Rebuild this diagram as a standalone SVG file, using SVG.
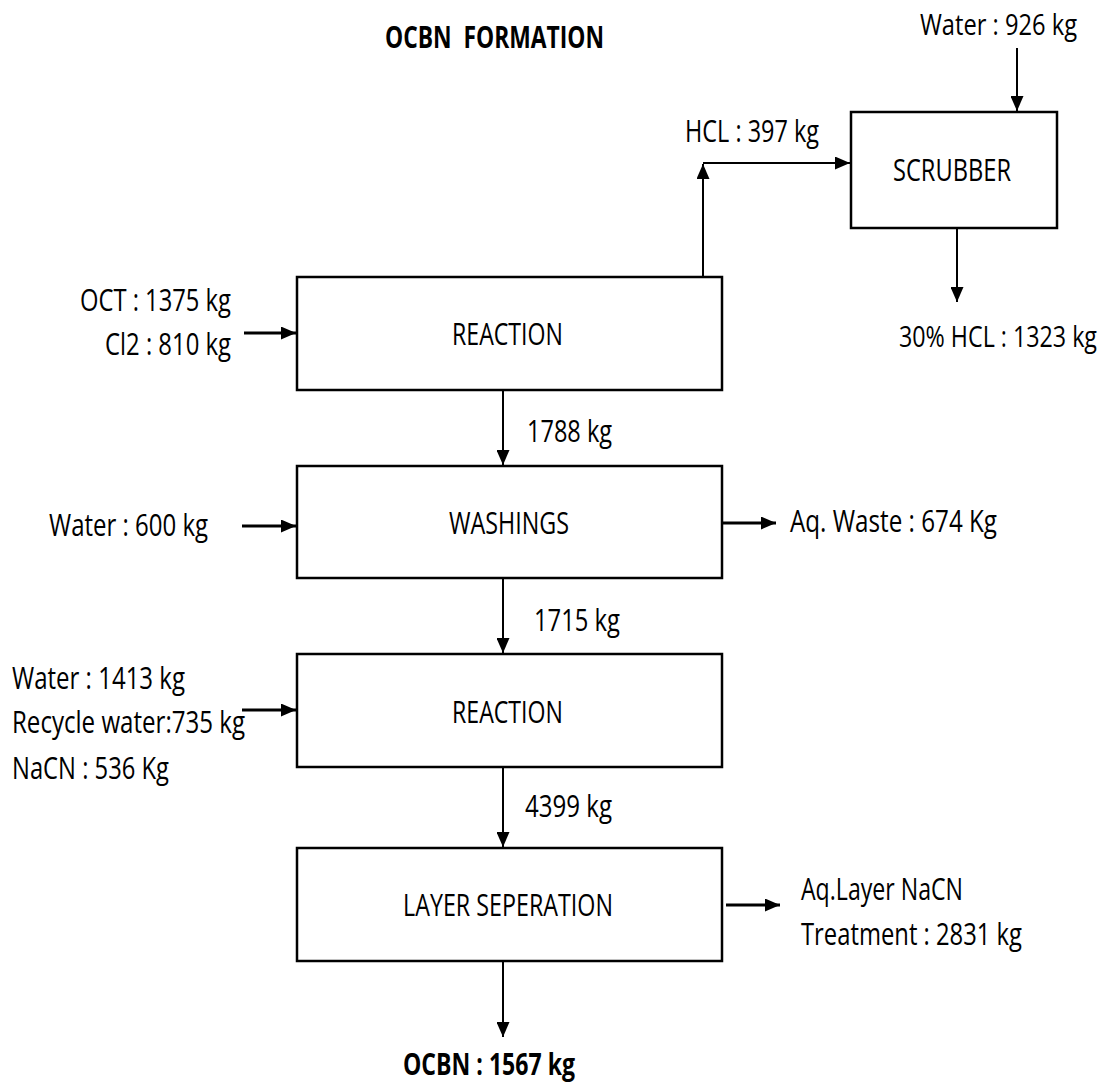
<svg xmlns="http://www.w3.org/2000/svg" width="1112" height="1083" viewBox="0 0 1112 1083">
<defs>
<style>
text{font-family:"Open Sans","Liberation Sans",sans-serif;font-size:31px;fill:#000;white-space:pre}
.b{font-weight:bold}
.sm{font-size:29px}
.end{text-anchor:end}
.box{fill:#fff;stroke:#000;stroke-width:2.5}
.ln{fill:none;stroke:#000;stroke-width:2}
.thick{stroke-width:3}
</style>
<marker id="ah" markerUnits="userSpaceOnUse" markerWidth="15" markerHeight="13" refX="15" refY="6.5" orient="auto">
<path d="M0,0 L15,6.5 L0,13 z" fill="#000"/>
</marker>
</defs>
<rect width="1112" height="1083" fill="#fff"/>
<text class="b" x="385" y="48" textLength="219" lengthAdjust="spacingAndGlyphs">OCBN  FORMATION</text>
<g id="connectors">
<path class="ln" d="M1017,48 V111" marker-end="url(#ah)"/>
<path class="ln" d="M703,277 V164" marker-end="url(#ah)"/>
<path class="ln" d="M703,163 H850" marker-end="url(#ah)"/>
<path class="ln" d="M957,228 V302" marker-end="url(#ah)"/>
<path class="ln thick" d="M244,333 H296" marker-end="url(#ah)"/>
<path class="ln" d="M503,391 V465" marker-end="url(#ah)"/>
<path class="ln thick" d="M242,526 H296" marker-end="url(#ah)"/>
<path class="ln thick" d="M722,523 H776" marker-end="url(#ah)"/>
<path class="ln" d="M503,579 V653" marker-end="url(#ah)"/>
<path class="ln thick" d="M242,710 H296" marker-end="url(#ah)"/>
<path class="ln" d="M503,768 V847" marker-end="url(#ah)"/>
<path class="ln thick" d="M726,905 H780" marker-end="url(#ah)"/>
<path class="ln" d="M503,962 V1037" marker-end="url(#ah)"/>
</g>
<g id="scrubber">
<rect class="box" x="851" y="112" width="206" height="116"/>
<text x="893" y="181" textLength="118" lengthAdjust="spacingAndGlyphs">SCRUBBER</text>
</g>
<g id="reaction1">
<rect class="box" x="297" y="277" width="425" height="113"/>
<text x="452" y="345" textLength="111" lengthAdjust="spacingAndGlyphs">REACTION</text>
</g>
<g id="washings">
<rect class="box" x="297" y="466" width="425" height="112"/>
<text x="449" y="534" textLength="120" lengthAdjust="spacingAndGlyphs">WASHINGS</text>
</g>
<g id="reaction2">
<rect class="box" x="297" y="654" width="425" height="113"/>
<text x="452" y="723" textLength="111" lengthAdjust="spacingAndGlyphs">REACTION</text>
</g>
<g id="layer-separation">
<rect class="box" x="297" y="848" width="425" height="113"/>
<text x="403" y="916" textLength="210" lengthAdjust="spacingAndGlyphs">LAYER SEPERATION</text>
</g>
<g id="labels">
<text class="sm" x="920" y="35" textLength="157" lengthAdjust="spacingAndGlyphs">Water : 926 kg</text>
<text x="685" y="142" textLength="134" lengthAdjust="spacingAndGlyphs">HCL : 397 kg</text>
<text x="80" y="311" textLength="151" lengthAdjust="spacingAndGlyphs">OCT : 1375 kg</text>
<text x="105" y="355" textLength="126" lengthAdjust="spacingAndGlyphs">Cl2 : 810 kg</text>
<text class="sm end" x="1097" y="347" textLength="198" lengthAdjust="spacingAndGlyphs">30% HCL : 1323 kg</text>
<text x="527" y="442" textLength="85" lengthAdjust="spacingAndGlyphs">1788 kg</text>
<text x="49" y="536" textLength="159" lengthAdjust="spacingAndGlyphs">Water : 600 kg</text>
<text x="790" y="532" textLength="207" lengthAdjust="spacingAndGlyphs">Aq. Waste : 674 Kg</text>
<text x="534" y="631" textLength="86" lengthAdjust="spacingAndGlyphs">1715 kg</text>
<text x="12" y="689" textLength="173" lengthAdjust="spacingAndGlyphs">Water : 1413 kg</text>
<text x="12" y="733" textLength="233" lengthAdjust="spacingAndGlyphs">Recycle water:735 kg</text>
<text x="12" y="779" textLength="157" lengthAdjust="spacingAndGlyphs">NaCN : 536 Kg</text>
<text x="525" y="817" textLength="87" lengthAdjust="spacingAndGlyphs">4399 kg</text>
<text x="801" y="900" textLength="162" lengthAdjust="spacingAndGlyphs">Aq.Layer NaCN</text>
<text x="801" y="945" textLength="221" lengthAdjust="spacingAndGlyphs">Treatment : 2831 kg</text>
<text class="b" x="403" y="1075" textLength="172" lengthAdjust="spacingAndGlyphs">OCBN : 1567 kg</text>
</g>
</svg>
